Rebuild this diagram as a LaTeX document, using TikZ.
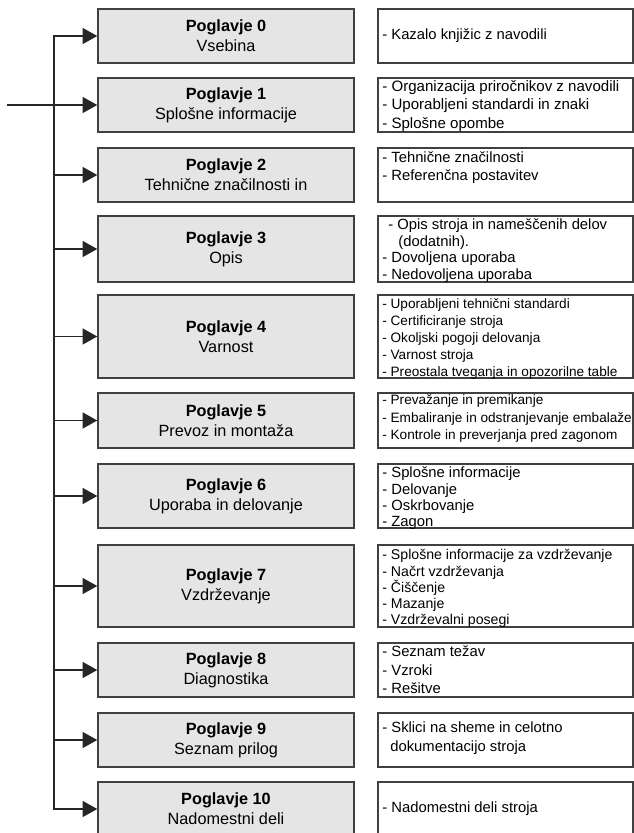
\documentclass[tikz,border=0pt]{standalone}
\usepackage{fontspec}
\setmainfont{Liberation Sans}
\usetikzlibrary{arrows.meta}

\begin{document}
\begin{tikzpicture}[x=0.75pt, y=-0.75pt]
    \tikzset{
        chap/.style={draw=black!75, fill=black!10, line width=1.1pt, minimum width=192pt,
            inner sep=0pt, align=center, font=\fontsize{12.2}{15}\selectfont},
        info/.style={draw=black!75, fill=white, line width=1.1pt, minimum width=191pt, inner sep=0pt},
        items/.style={anchor=west, xshift=3.5pt, inner sep=0pt, align=left,
            font=\fontsize{11.1}{13.8}\selectfont},
        carrow/.style={-{Triangle[length=11pt,width=12pt]}, line width=1.1pt, draw=black!85, line cap=rect},
    }
    \useasboundingbox (0,0) rectangle (634,833);
    \clip (0,0) rectangle (634,833);

    % poglavja (levo) in vsebina poglavij (desno)
    \node[chap, minimum height=40.5pt] (c0) at (226, 36) {\textbf{Poglavje 0}\\Vsebina};
    \node[info, minimum height=40.5pt] (i0) at (505.5, 36) {};
    \node[items] (t0) at (i0.west) {- Kazalo knjižic z navodili};

    \node[chap, minimum height=40.5pt] (c1) at (226, 105) {\textbf{Poglavje 1}\\Splošne informacije};
    \node[info, minimum height=40.5pt] (i1) at (505.5, 105) {};
    \node[items, yshift=-0.8pt, font=\fontsize{11.3}{13.8}\selectfont] (t1) at (i1.west)
        {- Organizacija priročnikov z navodili\\- Uporabljeni standardi in znaki\\- Splošne opombe};

    \node[chap, minimum height=40.5pt] (c2) at (226, 175) {\textbf{Poglavje 2}\\Tehnične značilnosti in};
    \node[info, minimum height=40.5pt] (i2) at (505.5, 175) {};
    \node[items, anchor=north west, yshift=-3.5pt, font=\fontsize{11.1}{12.8}\selectfont] (t2) at (i2.north west)
        {- Tehnične značilnosti\\- Referenčna postavitev};

    \node[chap, minimum height=49.5pt] (c3) at (226, 249) {\textbf{Poglavje 3}\\Opis};
    \node[info, minimum height=49.5pt] (i3) at (505.5, 249) {};
    \node[items, yshift=-1.2pt, font=\fontsize{11.1}{12.5}\selectfont] (t3) at (i3.west)
        {\hspace*{4.5pt}- Opis stroja in nameščenih delov\\\hspace*{12pt}(dodatnih).\\- Dovoljena uporaba\\- Nedovoljena uporaba};

    \node[chap, minimum height=62.25pt] (c4) at (226, 336.5) {\textbf{Poglavje 4}\\Varnost};
    \node[info, minimum height=62.25pt] (i4) at (505.5, 336.5) {};
    \node[items, yshift=-1.8pt, font=\fontsize{10.2}{12.6}\selectfont] (t4) at (i4.west)
        {- Uporabljeni tehnični standardi\\- Certificiranje stroja\\- Okoljski pogoji delovanja\\- Varnost stroja\\- Preostala tveganja in opozorilne table};

    \node[chap, minimum height=41.25pt] (c5) at (226, 420.5) {\textbf{Poglavje 5}\\Prevoz in montaža};
    \node[info, minimum height=41.25pt] (i5) at (505.5, 420.5) {};
    \node[items, anchor=north west, yshift=-1.8pt, font=\fontsize{10.2}{13}\selectfont] (t5) at (i5.north west)
        {- Prevažanje in premikanje\\- Embaliranje in odstranjevanje embalaže\\- Kontrole in preverjanja pred zagonom};

    \node[chap, minimum height=48pt] (c6) at (226, 496) {\textbf{Poglavje 6}\\Uporaba in delovanje};
    \node[info, minimum height=48pt] (i6) at (505.5, 496) {};
    \node[items, yshift=-1.8pt, font=\fontsize{11.1}{12.3}\selectfont] (t6) at (i6.west)
        {- Splošne informacije\\- Delovanje\\- Oskrbovanje\\- Zagon};

    \node[chap, minimum height=61.5pt] (c7) at (226, 586) {\textbf{Poglavje 7}\\Vzdrževanje};
    \node[info, minimum height=61.5pt] (i7) at (505.5, 586) {};
    \node[items, yshift=-2pt, font=\fontsize{10.6}{12.2}\selectfont] (t7) at (i7.west)
        {- Splošne informacije za vzdrževanje\\- Načrt vzdrževanja\\- Čiščenje\\- Mazanje\\- Vzdrževalni posegi};

    \node[chap, minimum height=40.5pt] (c8) at (226, 670) {\textbf{Poglavje 8}\\Diagnostika};
    \node[info, minimum height=40.5pt] (i8) at (505.5, 670) {};
    \node[items] (t8) at (i8.west) {- Seznam težav\\- Vzroki\\- Rešitve};

    \node[chap, minimum height=40.5pt] (c9) at (226, 740) {\textbf{Poglavje 9}\\Seznam prilog};
    \node[info, minimum height=40.5pt] (i9) at (505.5, 740) {};
    \node[items, yshift=1.5pt] (t9) at (i9.west)
        {- Sklici na sheme in celotno\\\hspace*{6pt}dokumentacijo stroja};

    \node[chap, minimum height=40.5pt] (c10) at (226, 809) {\textbf{Poglavje 10}\\Nadomestni deli};
    \node[info, minimum height=40.5pt] (i10) at (505.5, 809) {};
    \node[items] (t10) at (i10.west) {- Nadomestni deli stroja};

    % razvod puščic
    \coordinate (spine) at (54, 0);
    \coordinate (entry) at (8, 105);
    \draw[carrow] (spine |- c10.west) -- (spine |- c0.west) -- (c0.west);
    \draw[carrow] (entry) -- (c1.west);
    \draw[carrow] (spine |- c2.west) -- (c2.west);
    \draw[carrow] (spine |- c3.west) -- (c3.west);
    \draw[carrow] (spine |- c4.west) -- (c4.west);
    \draw[carrow] (spine |- c5.west) -- (c5.west);
    \draw[carrow] (spine |- c6.west) -- (c6.west);
    \draw[carrow] (spine |- c7.west) -- (c7.west);
    \draw[carrow] (spine |- c8.west) -- (c8.west);
    \draw[carrow] (spine |- c9.west) -- (c9.west);
    \draw[carrow] (spine |- c10.west) -- (c10.west);
\end{tikzpicture}
\end{document}
